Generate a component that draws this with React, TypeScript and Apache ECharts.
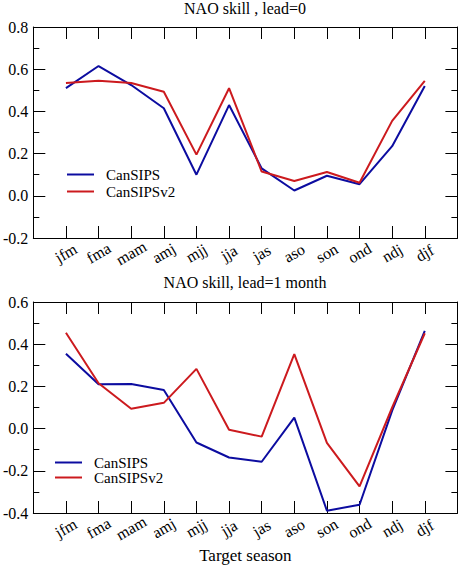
import React, { useEffect, useRef } from "react";
import * as echarts from "echarts";

const seasons = ["jfm", "fma", "mam", "amj", "mjj", "jja", "jas", "aso", "son", "ond", "ndj", "djf"];
const seriesNames = ["CanSIPS", "CanSIPSv2"];
const lead0CanSIPS = [0.51, 0.615, 0.525, 0.415, 0.1, 0.43, 0.13, 0.025, 0.095, 0.055, 0.235, 0.52];
const lead0CanSIPSv2 = [0.535, 0.545, 0.535, 0.493, 0.195, 0.51, 0.115, 0.07, 0.113, 0.062, 0.355, 0.545];
const lead1CanSIPS = [0.355, 0.21, 0.211, 0.183, -0.066, -0.137, -0.157, 0.052, -0.389, -0.361, 0.085, 0.463];
const lead1CanSIPSv2 = [0.454, 0.215, 0.094, 0.122, 0.283, -0.005, -0.038, 0.353, -0.068, -0.274, 0.1, 0.452];
const titles = ["NAO skill , lead=0", "NAO skill, lead=1 month"];
const xAxisTitle = "Target season";

const FONT = "Liberation Serif";
const BLUE = "#0c0ca0";
const RED = "#cc1a1e";

function toPairs(vals: number[]) {
  return vals.map((v, i) => [i + 1, v]);
}

export default function App() {
  const ref = useRef<HTMLDivElement>(null);
  useEffect(() => {
    if (!ref.current) return;
    const chart = echarts.init(ref.current, null, { renderer: "svg" });
    const grids = [
      { left: 31, right: 1, top: 27, height: 211 },
      { left: 31, right: 1, top: 302, height: 211 },
    ];
    const xBase = (gridIndex: number, position: string, showLabels: boolean) => ({
      type: "value",
      gridIndex,
      position,
      min: 0,
      max: 13,
      interval: 1,
      axisLine: { show: true, onZero: false, lineStyle: { color: "#000", width: 1 } },
      axisTick: { show: true, inside: true, length: 12, lineStyle: { color: "#000" } },
      splitLine: { show: false },
      axisLabel: {
        show: showLabels,
        rotate: 30,
        align: "center",
        verticalAlign: "middle",
        margin: 15,
        fontFamily: FONT,
        fontSize: 16,
        color: "#000",
        formatter: (v: number) => (v >= 1 && v <= 12 ? seasons[v - 1] : ""),
      },
    });
    const yBase = (gridIndex: number, position: string, min: number, max: number, showLabels: boolean) => ({
      type: "value",
      gridIndex,
      position,
      min,
      max,
      interval: 0.2,
      axisLine: { show: true, onZero: false, lineStyle: { color: "#000", width: 1 } },
      axisTick: { show: true, inside: true, length: 12, lineStyle: { color: "#000" } },
      minorTick: { show: true, splitNumber: 2, length: 6, lineStyle: { color: "#000" } },
      splitLine: { show: false },
      axisLabel: {
        show: showLabels,
        margin: 5,
        fontFamily: FONT,
        fontSize: 16,
        color: "#000",
        formatter: (v: number) => v.toFixed(1),
      },
    });
    const xAxes: any[] = [
      xBase(0, "bottom", true),
      xBase(0, "top", false),
      xBase(1, "bottom", true),
      xBase(1, "top", false),
    ];
    xAxes[2] = {
      ...xAxes[2],
      name: xAxisTitle,
      nameLocation: "middle",
      nameGap: 34,
      nameTextStyle: { fontFamily: FONT, fontSize: 17, color: "#000" },
    };
    const yAxes = [
      yBase(0, "left", -0.2, 0.8, true),
      yBase(0, "right", -0.2, 0.8, false),
      yBase(1, "left", -0.4, 0.6, true),
      yBase(1, "right", -0.4, 0.6, false),
    ];
    const line = (name: string, vals: number[], color: string, xi: number, yi: number) => ({
      type: "line",
      name,
      data: toPairs(vals),
      xAxisIndex: xi,
      yAxisIndex: yi,
      symbol: "none",
      lineStyle: { color, width: 2 },
      itemStyle: { color },
      z: name === seriesNames[1] ? 3 : 2,
    });
    const legendBase = (left: number, top: number, gap: number) => ({
      left,
      top,
      orient: "vertical",
      padding: 0,
      itemGap: gap,
      icon: "rect",
      itemWidth: 27,
      itemHeight: 2,
      data: seriesNames,
      textStyle: { fontFamily: FONT, fontSize: 15, color: "#000", lineHeight: 15, padding: [0, 0, 0, 7] },
    });
    chart.setOption({
      animation: false,
      backgroundColor: "#fff",
      title: titles.map((t, i) => ({
        text: t,
        left: 245,
        top: i === 0 ? 0 : 274,
        textAlign: "center",
        padding: 0,
        textStyle: { fontFamily: FONT, fontSize: 16, fontWeight: "normal", color: "#000" },
      })),
      legend: [legendBase(67, 167, 2), legendBase(55, 455, 0)],
      grid: grids,
      xAxis: xAxes,
      yAxis: yAxes,
      series: [
        line(seriesNames[0], lead0CanSIPS, BLUE, 0, 0),
        line(seriesNames[1], lead0CanSIPSv2, RED, 0, 0),
        line(seriesNames[0], lead1CanSIPS, BLUE, 2, 2),
        line(seriesNames[1], lead1CanSIPSv2, RED, 2, 2),
      ],
    });
    return () => chart.dispose();
  }, []);
  return (
    <div
      ref={ref}
      style={{ position: "absolute", left: 0, top: 0, width: 460, height: 565, background: "#fff" }}
    />
  );
}
